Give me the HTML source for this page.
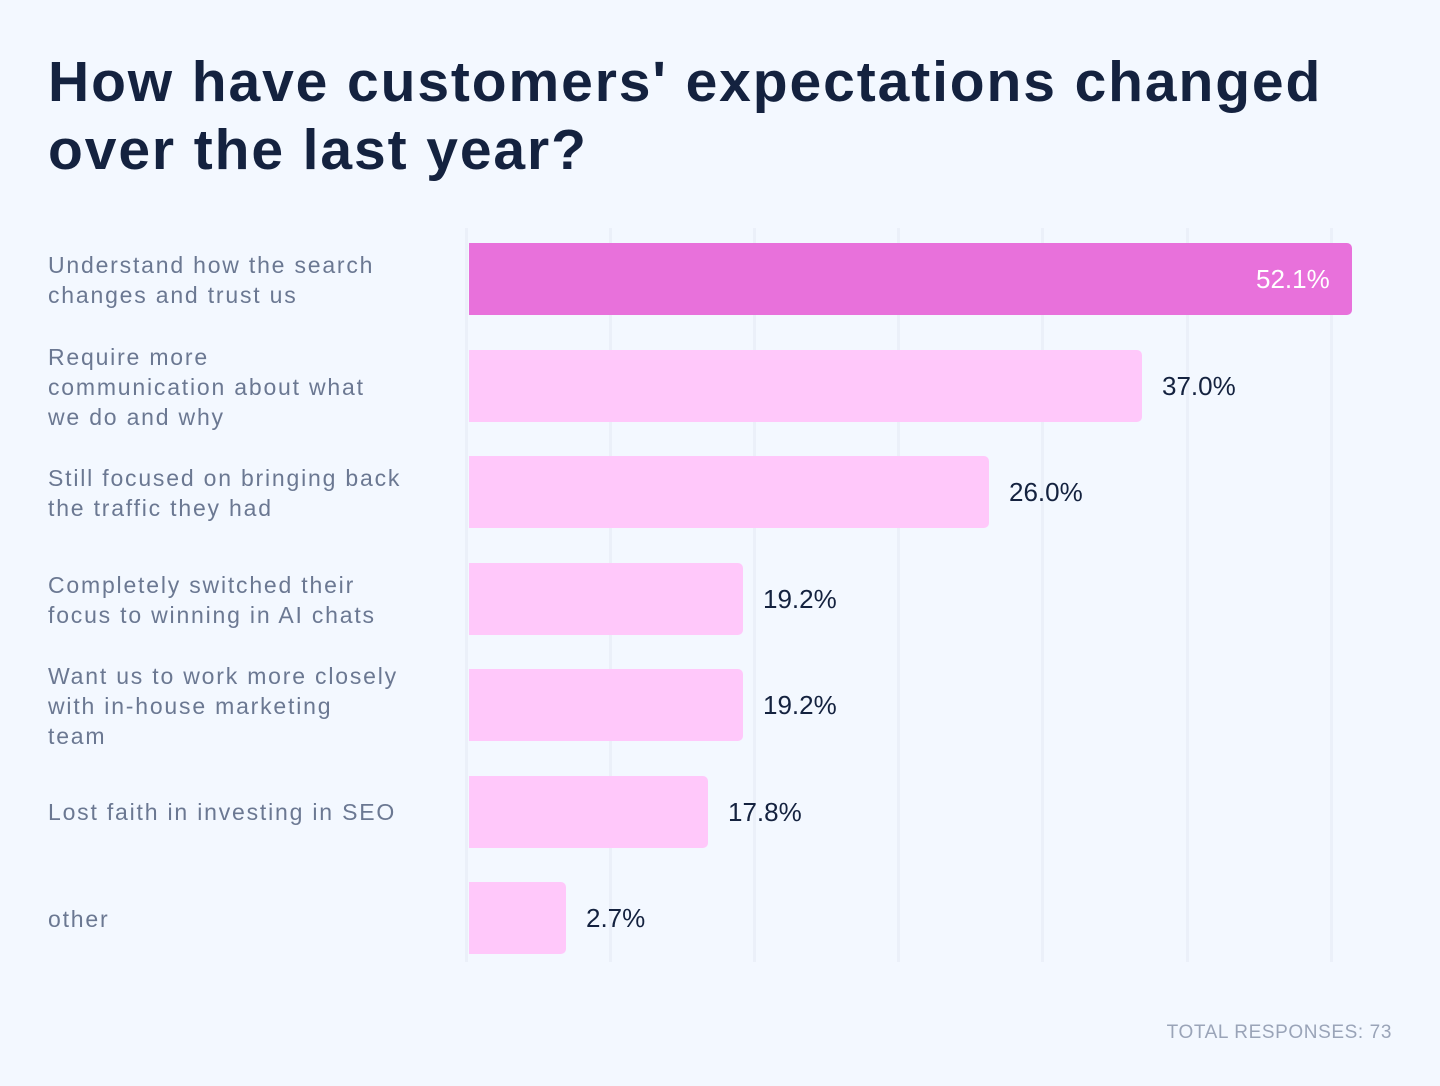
<!DOCTYPE html>
<html><head><style>
body{margin:0;width:1440px;height:1086px;background:#f3f8ff;font-family:"Liberation Sans",sans-serif;position:relative;overflow:hidden}
h1{position:absolute;left:48px;top:48px;margin:0;font-size:57px;line-height:68px;color:#14223f;font-weight:bold;letter-spacing:1.9px;white-space:nowrap}
.g{position:absolute;top:228px;height:734px;width:3px;background:#ebf0f9}
.b{position:absolute;left:469px;height:72px;background:#ffc8fa;border-radius:0 5px 5px 0}
.v{position:absolute;font-size:26px;color:#14223f;line-height:72px}
.l{position:absolute;left:48px;width:400px;font-size:23px;line-height:30px;color:#6b7892;letter-spacing:1.8px;white-space:nowrap}
.f{position:absolute;right:48px;top:1022px;font-size:19px;color:#9aa4b8;letter-spacing:0.6px}
</style></head><body>
<h1>How have customers' expectations changed<br>over the last year?</h1>
<div class="g" style="left:465px"></div><div class="g" style="left:609px"></div><div class="g" style="left:753px"></div><div class="g" style="left:897px"></div><div class="g" style="left:1041px"></div><div class="g" style="left:1186px"></div><div class="g" style="left:1330px"></div>
<div class="b" style="top:243px;width:883px;background:#e871db"></div><div class="v" style="top:243px;left:1256px;color:#fff">52.1%</div>
<div class="b" style="top:350px;width:673px"></div><div class="v" style="top:350px;left:1162px">37.0%</div>
<div class="b" style="top:456px;width:520px"></div><div class="v" style="top:456px;left:1009px">26.0%</div>
<div class="b" style="top:563px;width:274px"></div><div class="v" style="top:563px;left:763px">19.2%</div>
<div class="b" style="top:669px;width:274px"></div><div class="v" style="top:669px;left:763px">19.2%</div>
<div class="b" style="top:776px;width:239px"></div><div class="v" style="top:776px;left:728px">17.8%</div>
<div class="b" style="top:882px;width:97px"></div><div class="v" style="top:882px;left:586px">2.7%</div>
<div class="l" style="top:250px">Understand how the search<br>changes and trust us</div>
<div class="l" style="top:342px">Require more<br>communication about what<br>we do and why</div>
<div class="l" style="top:463px">Still focused on bringing back<br>the traffic they had</div>
<div class="l" style="top:570px">Completely switched their<br>focus to winning in AI chats</div>
<div class="l" style="top:661px">Want us to work more closely<br>with in-house marketing<br>team</div>
<div class="l" style="top:797px">Lost faith in investing in SEO</div>
<div class="l" style="top:904px">other</div>
<div class="f">TOTAL RESPONSES: 73</div>
</body></html>
